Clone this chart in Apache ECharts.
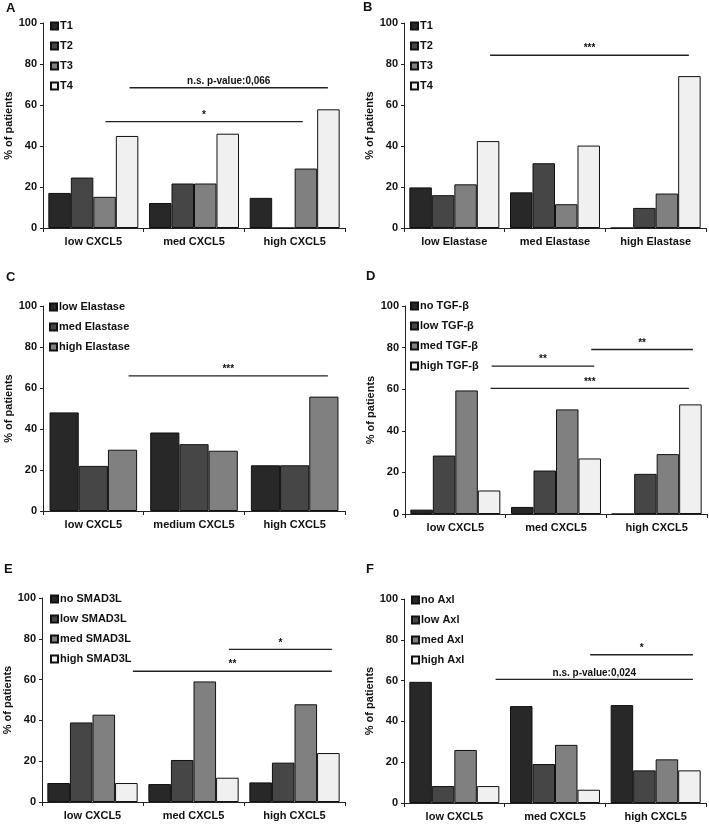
<!DOCTYPE html>
<html>
<head>
<meta charset="utf-8">
<script src="https://cdn.jsdelivr.net/npm/echarts@6/dist/echarts.min.js"></script>
<style>html,body{margin:0;padding:0;background:#fff}#c{width:709px;height:824px}</style>
</head>
<body>
<div id="c"></div>
<script>
// ---- Data ----
const catsCXCL5 = ['low CXCL5', 'med CXCL5', 'high CXCL5'];
const catsElastase = ['low Elastase', 'med Elastase', 'high Elastase'];
const catsCXCL5medium = ['low CXCL5', 'medium CXCL5', 'high CXCL5'];

const namesT = ['T1', 'T2', 'T3', 'T4'];
const A_T1 = [17.1, 12.2, 14.7];
const A_T2 = [24.6, 21.7, 0];
const A_T3 = [15.2, 21.7, 29.0];
const A_T4 = [44.9, 46.0, 57.9];

const B_T1 = [19.8, 17.4, 0];
const B_T2 = [16.0, 31.6, 9.8];
const B_T3 = [21.3, 11.6, 16.8];
const B_T4 = [42.4, 40.2, 74.1];

const namesC = ['low Elastase', 'med Elastase', 'high Elastase'];
const C_low = [48.1, 38.3, 22.3];
const C_med = [22.0, 32.6, 22.3];
const C_high = [29.9, 29.4, 55.8];

const namesD = ['no TGF-β', 'low TGF-β', 'med TGF-β', 'high TGF-β'];
const D_no = [2.1, 3.4, 0];
const D_low = [28.1, 20.9, 19.3];
const D_med = [59.4, 50.3, 28.8];
const D_high = [11.3, 26.7, 52.7];

const namesE = ['no SMAD3L', 'low SMAD3L', 'med SMAD3L', 'high SMAD3L'];
const E_no = [9.3, 8.8, 9.6];
const E_low = [39.0, 20.6, 19.3];
const E_med = [42.8, 59.1, 47.9];
const E_high = [9.3, 11.9, 24.0];

const namesF = ['no Axl', 'low Axl', 'med Axl', 'high Axl'];
const F_no = [59.4, 47.5, 48.0];
const F_low = [8.3, 19.1, 16.0];
const F_med = [26.0, 28.5, 21.4];
const F_high = [8.3, 6.5, 16.0];

const yTicks = [0, 20, 40, 60, 80, 100];

// significance brackets: [from (category units), to, y value, text]
const sigA = [[0.86, 2.83, 68.4, 'n.s. p-value:0,066'], [0.62, 2.58, 51.9, '*']];
const sigB = [[0.855, 2.83, 84.3, '***']];
const sigC = [[0.85, 2.83, 65.9, '***']];
const sigD = [[1.85, 2.86, 79.1, '**'], [0.86, 1.88, 71.1, '**'], [0.85, 2.82, 60.4, '***']];
const sigE = [[1.85, 2.87, 74.8, '*'], [0.90, 2.87, 64.1, '**']];
const sigF = [[1.85, 2.87, 72.7, '*'], [0.91, 2.87, 60.6, 'n.s. p-value:0,024']];

// ---- Style ----
const colors4 = ['#282828', '#464646', '#808080', '#f0f0f0'];
const FONT = 'Liberation Sans, Arial, sans-serif';
const TXT = '#111';

const panels = [
  {letter: 'A', cats: catsCXCL5, names: namesT, data: [A_T1, A_T2, A_T3, A_T4], sig: sigA,
   grid: {left: 43, top: 23, width: 302, height: 205}, legend: {left: 50, top: 16}, title: {left: 6, top: 2}, gap: '10.6%'},
  {letter: 'B', cats: catsElastase, names: namesT, data: [B_T1, B_T2, B_T3, B_T4], sig: sigB,
   grid: {left: 404, top: 23, width: 302, height: 205}, legend: {left: 410, top: 16}, title: {left: 363, top: 1}, gap: '10.6%'},
  {letter: 'C', cats: catsCXCL5medium, names: namesC, data: [C_low, C_med, C_high], sig: sigC,
   grid: {left: 43, top: 306, width: 302, height: 205}, legend: {left: 49, top: 297}, title: {left: 6, top: 271}, gap: '13%'},
  {letter: 'D', cats: catsCXCL5, names: namesD, data: [D_no, D_low, D_med, D_high], sig: sigD,
   grid: {left: 405, top: 306, width: 302, height: 208}, legend: {left: 410, top: 296}, title: {left: 366, top: 270}, gap: '10.6%'},
  {letter: 'E', cats: catsCXCL5, names: namesE, data: [E_no, E_low, E_med, E_high], sig: sigE,
   grid: {left: 42, top: 598, width: 303, height: 204}, legend: {left: 50, top: 589}, title: {left: 4, top: 563}, gap: '10.6%'},
  {letter: 'F', cats: catsCXCL5, names: namesF, data: [F_no, F_low, F_med, F_high], sig: sigF,
   grid: {left: 404, top: 599, width: 302, height: 204}, legend: {left: 411, top: 590}, title: {left: 366, top: 563}, gap: '10.6%'}
];

const option = {
  animation: false,
  backgroundColor: '#fff',
  textStyle: {fontFamily: FONT},
  title: [], grid: [], xAxis: [], yAxis: [], legend: [], series: []
};

panels.forEach((p, i) => {
  option.title.push({text: p.letter, left: p.title.left, top: p.title.top, padding: 0,
    textStyle: {fontSize: 13, fontWeight: 'bold', color: TXT, fontFamily: FONT}});
  option.grid.push(Object.assign({containLabel: false}, p.grid));
  // category axis
  option.xAxis.push({
    type: 'category', gridIndex: i, data: p.cats,
    axisLine: {show: true, lineStyle: {color: '#222', width: 1}},
    axisTick: {show: true, length: 4, lineStyle: {color: '#222'}},
    axisLabel: {interval: 0, fontSize: 11, fontWeight: 'bold', color: TXT, margin: 8, fontFamily: FONT},
    splitLine: {show: false}
  });
  // hidden value axis for significance brackets
  option.xAxis.push({type: 'value', gridIndex: i, min: 0, max: 3, show: false});
  option.yAxis.push({
    type: 'value', gridIndex: i, min: 0, max: 100, interval: 20,
    name: '% of patients', nameLocation: 'middle', nameGap: 28,
    nameTextStyle: {fontSize: 11, fontWeight: 'bold', color: TXT, fontFamily: FONT},
    axisLine: {show: true, lineStyle: {color: '#222', width: 1}},
    axisTick: {show: true, length: 3, lineStyle: {color: '#222'}},
    axisLabel: {fontSize: 11, fontWeight: 'bold', color: TXT, margin: 6, fontFamily: FONT,
      formatter: v => yTicks.includes(v) ? String(v) : ''},
    splitLine: {show: false}
  });
  const xCat = i * 2, xVal = i * 2 + 1;
  p.names.forEach((n, k) => {
    option.series.push({
      type: 'bar', name: n, xAxisIndex: xCat, yAxisIndex: i, data: p.data[k],
      barGap: '0%', barCategoryGap: p.gap,
      itemStyle: {color: colors4[k], borderColor: '#111', borderWidth: 1},
      emphasis: {disabled: true}
    });
  });
  option.legend.push({
    data: p.names, orient: 'vertical', left: p.legend.left, top: p.legend.top,
    padding: 0, itemGap: 0, itemWidth: 7, itemHeight: 7, icon: 'rect',
    textStyle: {fontSize: 11, fontWeight: 'bold', color: TXT, lineHeight: 20, fontFamily: FONT, padding: [0, 0, 0, -3]},
    selectedMode: false
  });
  p.sig.forEach(s => {
    option.series.push({
      type: 'line', xAxisIndex: xVal, yAxisIndex: i, symbol: 'none', silent: true,
      lineStyle: {color: '#222', width: 1.4},
      data: [[s[0], s[2]], [s[1], s[2]]]
    });
  });
  option.series.push({
    type: 'scatter', xAxisIndex: xVal, yAxisIndex: i, silent: true,
    symbolSize: 1, itemStyle: {color: 'rgba(0,0,0,0)'},
    label: {show: true, position: 'top', distance: 1, fontSize: 10, fontWeight: 'bold',
      color: TXT, opacity: 1, fontFamily: FONT, formatter: prm => prm.data[2]},
    data: p.sig.map(s => [(s[0] + s[1]) / 2, s[2], s[3]])
  });
});

const chart = echarts.init(document.getElementById('c'), null, {renderer: 'canvas'});
chart.setOption(option);
</script>
</body>
</html>
